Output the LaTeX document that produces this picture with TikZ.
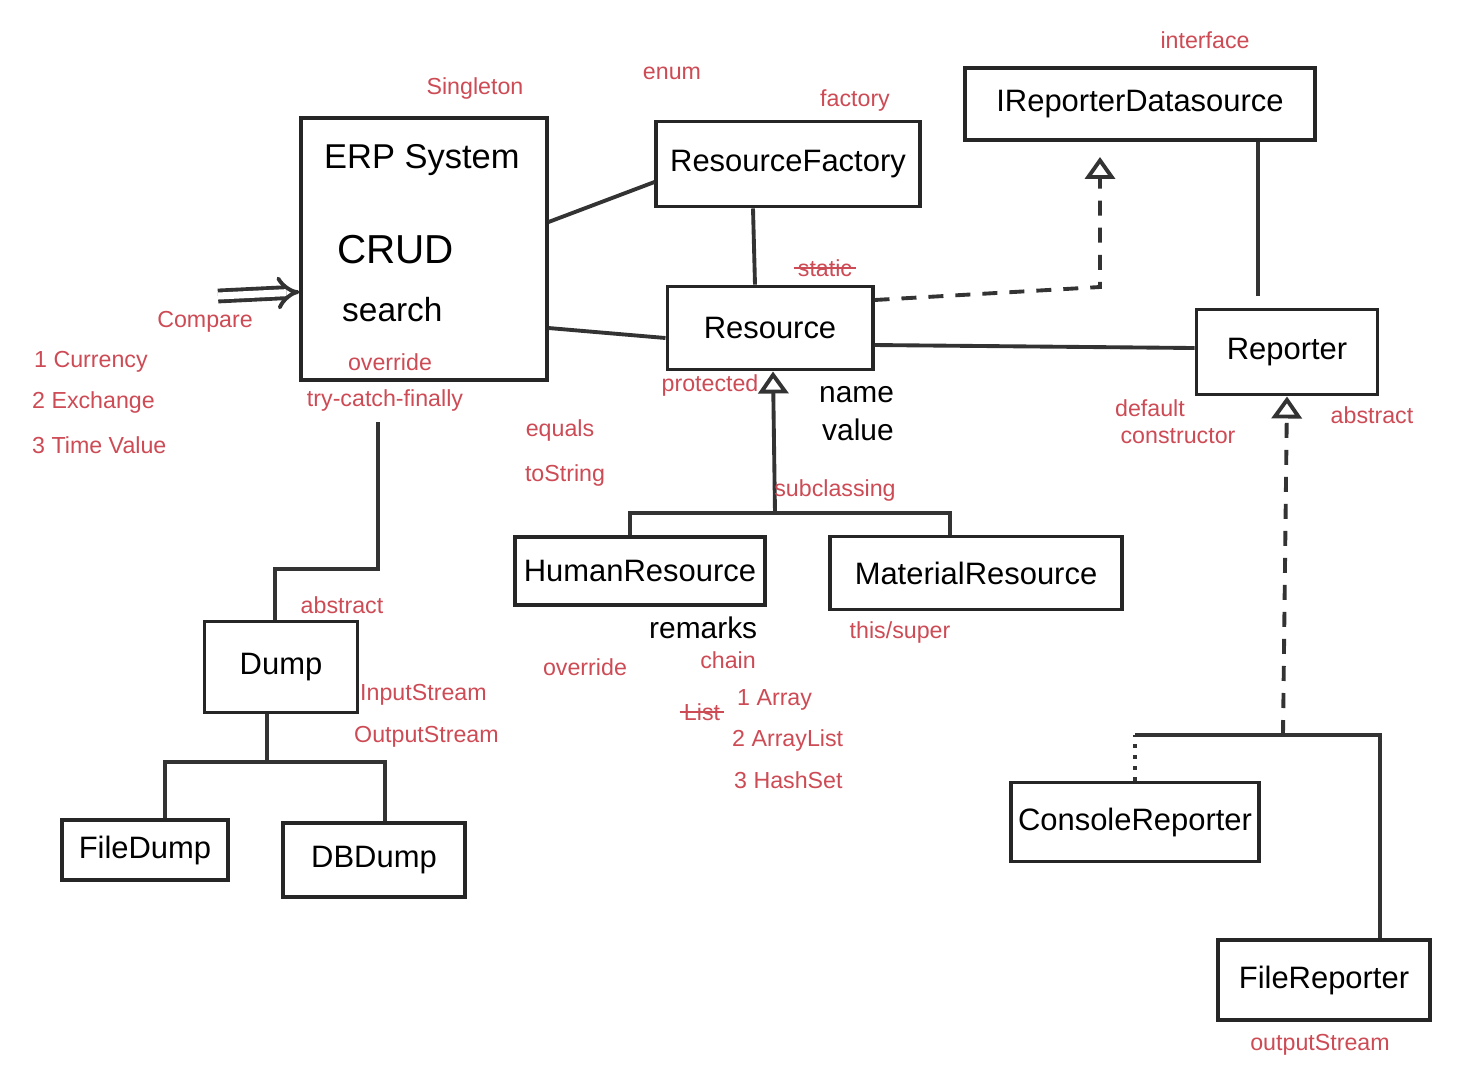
\documentclass[tikz,border=0pt]{standalone}
\usepackage{fontspec}
\setmainfont{Liberation Sans}
\usetikzlibrary{arrows.meta,calc}
\definecolor{notered}{RGB}{205,75,85}
\tikzset{
  cls/.style={draw=black!85, line width=1.1pt, inner sep=2pt, font=\fontsize{8.8}{10}\selectfont},
  link/.style={draw=black!80, line width=1.1pt},
  note/.style={text=notered, font=\fontsize{6.6}{8}\selectfont, inner sep=1pt},
  attr/.style={font=\fontsize{8.5}{10}\selectfont, inner sep=1pt},
  inherit/.style={-{Triangle[open, length=0.22cm, width=0.3cm]}},
  struck/.style={append after command={(\tikzlastnode.west) edge[draw=notered, line width=0.8pt] (\tikzlastnode.east)}},
  dashline/.style={dash pattern=on 0.15cm off 0.12cm},
}

\begin{document}
\begin{tikzpicture}[x=0.01cm, y=-0.01cm]
  \useasboundingbox[fill=white] (0,0) rectangle (1463,1090);

  % classes
  \node [cls, minimum width=2.45cm, minimum height=2.62cm] (erp) at (424,249) {};
  \node [attr, font=\fontsize{9.8}{12}\selectfont, anchor=west] (erpname) at (320,160) {ERP System};
  \node [attr, font=\fontsize{11.5}{14}\selectfont, anchor=west] (crud) at (333,250) {CRUD};
  \node [attr, font=\fontsize{9.5}{11}\selectfont, anchor=west] (search) at (338,310) {search};

  \node [cls, minimum width=2.63cm, minimum height=0.85cm] (factory) at (788,164) {ResourceFactory};
  \node [cls, minimum width=3.50cm, minimum height=0.72cm] (ids) at (1140,104) {IReporterDatasource};
  \node [cls, minimum width=2.05cm, minimum height=0.83cm] (resource) at (770,328) {Resource};
  \node [cls, minimum width=1.81cm, minimum height=0.85cm] (reporter) at (1287,352) {Reporter};
  \node [cls, minimum width=2.50cm, minimum height=0.68cm] (human) at (640,571) {HumanResource};
  \node [cls, minimum width=2.92cm, minimum height=0.73cm] (material) at (976,573) {MaterialResource};
  \node [cls, minimum width=1.53cm, minimum height=0.91cm] (dump) at (281,667) {Dump};
  \node [cls, minimum width=1.66cm, minimum height=0.60cm] (filedump) at (145,850) {FileDump};
  \node [cls, minimum width=1.82cm, minimum height=0.74cm] (dbdump) at (374,860) {DBDump};
  \node [cls, minimum width=2.44cm, minimum height=0.79cm] (console) at (1135,822) {ConsoleReporter};
  \node [cls, minimum width=2.12cm, minimum height=0.80cm] (filerep) at (1324,980) {FileReporter};

  % fields
  \node [attr, anchor=west] (name) at (815,395) {name};
  \node [attr, anchor=west] (value) at (818,430) {value};
  \node [attr, anchor=west] (remarks) at (645,628) {remarks};

  % bends
  \coordinate (ain) at (218,296);
  \coordinate (rbend) at (1100,287);
  \coordinate (gres) at (775,513);
  \coordinate (gdump) at (377,569);
  \coordinate (gdb) at (267,762);
  \coordinate (grep) at (1283,735);
  \coordinate (gcon) at (1135,735);

  % connectors
  \draw [link, double, double distance=2pt, -{Implies}] (ain) -- ($(erp.west)+(0,43)$);
  \draw [link] ($(erp.east)+(0,-27)$) -- ($(factory.west)+(0,18)$);
  \draw [link] ($(erp.east)+(0,79)$) -- ($(resource.west)+(0,10)$);
  \draw [link] ($(factory.south)+(-35,0)$) -- ($(resource.north)+(-15,0)$);
  \draw [link, dashline, inherit, shorten >=0.15cm] ($(resource.east)+(0,-28)$) -- (rbend) -- ($(ids.south)+(-40,0)$);
  \draw [link] ($(ids.south)+(118,0)$) -- ($(reporter.north)+(-29,-12)$);
  \draw [link] ($(resource.east)+(0,17)$) -- ($(reporter.west)+(0,-4)$);

  \draw [link, inherit] (gres) -- ($(resource.south)+(3,0)$);
  \draw [link] ($(human.north)+(-10,0)$) |- (gres) -| ($(material.north)+(-26,0)$);

  \draw [link, shorten <=0.4cm] ($(erp.south)+(-46,0)$) |- (gdump) -| ($(dump.north)+(-6,0)$);
  \draw [link] ($(dump.south)+(-14,0)$) -- (gdb);
  \draw [link] ($(filedump.north)+(20,0)$) |- (gdb) -| ($(dbdump.north)+(11,0)$);

  \draw [link, dashline, inherit] (grep) -- (reporter.south);
  \draw [link, dotted] (console.north) -- (gcon);
  \draw [link] (gcon) -| ($(filerep.north)+(56,0)$);

  % notes
  \node [note] (nsingleton) at (475,88) {Singleton};
  \node [note] (nenum) at (672,73) {enum};
  \node [note] (nfactory) at (855,100) {factory};
  \node [note] (ninterface) at (1205,40) {interface};
  \node [note] (ncompare) at (205,322) {Compare};
  \node [note, anchor=west] (ncur) at (30,362) {1 Currency};
  \node [note, anchor=west] (nexch) at (28,402) {2 Exchange};
  \node [note, anchor=west] (ntime) at (28,445) {3 Time Value};
  \node [note] (noverride) at (390,362) {override};
  \node [note] (ntry) at (385,400) {try-catch-finally};
  \node [note] (nprotected) at (710,385) {protected};
  \node [note, struck] (nstatic) at (825,268) {static};
  \node [note] (nequals) at (560,430) {equals};
  \node [note] (ntostring) at (565,475) {toString};
  \node [note] (nsub) at (835,490) {subclassing};
  \node [note] (ndefault) at (1150,408) {default};
  \node [note] (nconstr) at (1178,436) {constructor};
  \node [note] (nabsrep) at (1372,415) {abstract};
  \node [note] (nabsdump) at (342,605) {abstract};
  \node [note, anchor=west] (ninput) at (356,695) {InputStream};
  \node [note, anchor=west] (noutput) at (350,737) {OutputStream};
  \node [note] (noverride2) at (585,667) {override};
  \node [note] (nchain) at (728,660) {chain};
  \node [note, struck] (nlist) at (702,712) {List};
  \node [note, anchor=west] (narray) at (733,700) {1 Array};
  \node [note, anchor=west] (narraylist) at (728,740) {2 ArrayList};
  \node [note, anchor=west] (nhashset) at (730,780) {3 HashSet};
  \node [note] (nthis) at (900,632) {this/super};
  \node [note] (nostream) at (1320,1045) {outputStream};
\end{tikzpicture}
\end{document}
